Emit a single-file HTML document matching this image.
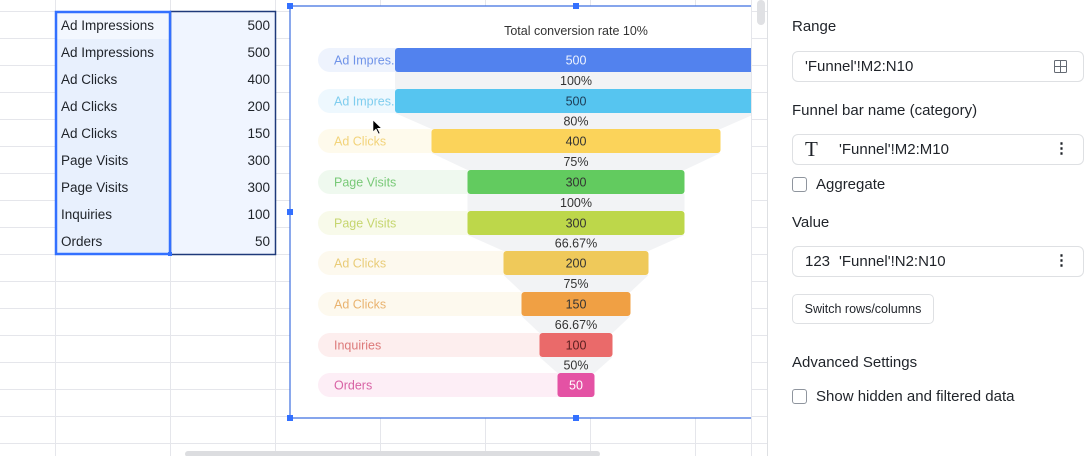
<!DOCTYPE html>
<html><head><meta charset="utf-8"><style>
body{margin:0;width:1090px;height:456px;overflow:hidden;background:#fff;font-family:"Liberation Sans",Arial,sans-serif;position:relative}
.p{position:absolute;color:#1f2329;font-size:15px}
.box{position:absolute;left:792px;width:292px;height:31px;border:1px solid #dee0e3;border-radius:6px;box-sizing:border-box;font-size:15px;color:#1f2329;line-height:29px}
.cb{position:absolute;left:792px;width:15px;height:15px;border:1px solid #8f959e;border-radius:3px;box-sizing:border-box}
.dots{position:absolute;right:14px;top:0;font-weight:bold;letter-spacing:0;line-height:27px}
</style></head><body>
<svg width="767" height="456" style="position:absolute;left:0;top:0" font-family="Liberation Sans, Arial, sans-serif">
<g stroke="#e5e6eb" stroke-width="1">
<line x1="0" y1="11.5" x2="767" y2="11.5"/><line x1="0" y1="38.5" x2="767" y2="38.5"/><line x1="0" y1="65.5" x2="767" y2="65.5"/><line x1="0" y1="92.5" x2="767" y2="92.5"/><line x1="0" y1="119.5" x2="767" y2="119.5"/><line x1="0" y1="146.5" x2="767" y2="146.5"/><line x1="0" y1="173.5" x2="767" y2="173.5"/><line x1="0" y1="200.5" x2="767" y2="200.5"/><line x1="0" y1="227.5" x2="767" y2="227.5"/><line x1="0" y1="254.5" x2="767" y2="254.5"/><line x1="0" y1="281.5" x2="767" y2="281.5"/><line x1="0" y1="308.5" x2="767" y2="308.5"/><line x1="0" y1="335.5" x2="767" y2="335.5"/><line x1="0" y1="362.5" x2="767" y2="362.5"/><line x1="0" y1="389.5" x2="767" y2="389.5"/><line x1="0" y1="416.5" x2="767" y2="416.5"/><line x1="0" y1="443.5" x2="767" y2="443.5"/>
<line x1="55.5" y1="0" x2="55.5" y2="456"/><line x1="170.5" y1="0" x2="170.5" y2="456"/><line x1="275.5" y1="0" x2="275.5" y2="456"/><line x1="380.5" y1="0" x2="380.5" y2="456"/><line x1="485.5" y1="0" x2="485.5" y2="456"/><line x1="590.5" y1="0" x2="590.5" y2="456"/><line x1="695.5" y1="0" x2="695.5" y2="456"/><line x1="751.5" y1="0" x2="751.5" y2="456"/>
</g>
<rect x="56" y="12" width="115" height="242" fill="#e8f0fd"/>
<rect x="56" y="12" width="115" height="27" fill="#f3f7fe"/>
<rect x="171" y="12" width="104" height="242" fill="#f0f5ff"/>
<rect x="170.5" y="11.5" width="105" height="243" fill="none" stroke="#1f3a7a" stroke-width="1.5"/>
<rect x="56" y="12" width="114" height="242" fill="none" stroke="#3370ff" stroke-width="2.5"/>
<rect x="168" y="252" width="4" height="4" fill="#3370ff"/>
<g font-size="13.5" fill="#1f2329">
<text x="61" y="30">Ad Impressions</text><text x="61" y="57">Ad Impressions</text><text x="61" y="84">Ad Clicks</text><text x="61" y="111">Ad Clicks</text><text x="61" y="138">Ad Clicks</text><text x="61" y="165">Page Visits</text><text x="61" y="192">Page Visits</text><text x="61" y="219">Inquiries</text><text x="61" y="246">Orders</text>
<g text-anchor="end"><text x="270" y="30">500</text><text x="270" y="57">500</text><text x="270" y="84">400</text><text x="270" y="111">200</text><text x="270" y="138">150</text><text x="270" y="165">300</text><text x="270" y="192">300</text><text x="270" y="219">100</text><text x="270" y="246">50</text></g>
</g>
<rect x="757" y="0" width="8" height="25" rx="4" fill="#e0e1e4"/>
<rect x="185" y="451" width="415" height="6" rx="3" fill="#dcdde0"/>
<rect x="290" y="6" width="461" height="412" fill="#fff"/>
<svg x="290" y="6" width="461" height="412" overflow="hidden"><g transform="translate(-290,-6)">
<text x="576" y="35" text-anchor="middle" font-size="12.5" fill="#333">Total conversion rate 10%</text>
<g fill="#f2f3f5">
<polygon points="395,72 757,72 757,89 395,89"/><polygon points="395,113 757,113 720.5,129 431.5,129"/><polygon points="431.5,153 720.5,153 684.5,170 467.5,170"/><polygon points="467.5,194 684.5,194 684.5,211 467.5,211"/><polygon points="467.5,235 684.5,235 648.5,251 503.5,251"/><polygon points="503.5,275 648.5,275 630.5,292 521.5,292"/><polygon points="521.5,316 630.5,316 612.5,333 539.5,333"/><polygon points="539.5,357 612.5,357 594.5,373 557.5,373"/>
</g>
<rect x="318" y="48" width="90" height="24" rx="12" fill="#eef3fd"/>
<rect x="318" y="89" width="90" height="24" rx="12" fill="#eef8fe"/>
<rect x="318" y="129" width="125" height="24" rx="12" fill="#fefaec"/>
<rect x="318" y="170" width="160" height="24" rx="12" fill="#eff9ef"/>
<rect x="318" y="211" width="160" height="24" rx="12" fill="#f8faea"/>
<rect x="318" y="251" width="196" height="24" rx="12" fill="#fdf9ee"/>
<rect x="318" y="292" width="214" height="24" rx="12" fill="#fdf9ee"/>
<rect x="318" y="333" width="232" height="24" rx="12" fill="#fdeeee"/>
<rect x="318" y="373" width="250" height="24" rx="12" fill="#fdeef6"/>
<rect x="395" y="48" width="362" height="24" rx="3" fill="#5282ee"/>
<rect x="395" y="89" width="362" height="24" rx="3" fill="#56c5f0"/>
<rect x="431.5" y="129" width="289" height="24" rx="3" fill="#fbd35a"/>
<rect x="467.5" y="170" width="217" height="24" rx="3" fill="#62cb5f"/>
<rect x="467.5" y="211" width="217" height="24" rx="3" fill="#bdd74a"/>
<rect x="503.5" y="251" width="145" height="24" rx="3" fill="#efc95a"/>
<rect x="521.5" y="292" width="109" height="24" rx="3" fill="#f0a044"/>
<rect x="539.5" y="333" width="73" height="24" rx="3" fill="#ea6a6a"/>
<rect x="557.5" y="373" width="37" height="24" rx="3" fill="#e452a4"/>
<g font-size="12.5">
<text x="334" y="64.5" fill="#6f93e8">Ad Impres.</text>
<text x="334" y="105.5" fill="#7fcdee">Ad Impres.</text>
<text x="334" y="145.5" fill="#f2d37a">Ad Clicks</text>
<text x="334" y="186.5" fill="#78c977">Page Visits</text>
<text x="334" y="227.5" fill="#c6d66f">Page Visits</text>
<text x="334" y="267.5" fill="#e9cc78">Ad Clicks</text>
<text x="334" y="308.5" fill="#e9b36f">Ad Clicks</text>
<text x="334" y="349.5" fill="#dd7a7a">Inquiries</text>
<text x="334" y="389.5" fill="#d862a4">Orders</text>
</g>
<g font-size="12.5" text-anchor="middle" fill="#333">
<text x="576" y="64.5" fill="#eef3ff">500</text><text x="576" y="105.5" fill="#1d3b55">500</text><text x="576" y="145.5">400</text><text x="576" y="186.5">300</text><text x="576" y="227.5">300</text><text x="576" y="267.5">200</text><text x="576" y="308.5">150</text><text x="576" y="349.5" fill="#5a1f1f">100</text><text x="576" y="389.5" fill="#fff">50</text>
<text x="576" y="85">100%</text><text x="576" y="125.5">80%</text><text x="576" y="166">75%</text><text x="576" y="207">100%</text><text x="576" y="247.5">66.67%</text><text x="576" y="288">75%</text><text x="576" y="329">66.67%</text><text x="576" y="369.5">50%</text>
</g>
<path d="M373,120 l0,12 l3,-3 l2.5,5 l1.5,-0.7 l-2.5,-5 l4,0 z" fill="#000" stroke="#fff" stroke-width="0.6"/>
</g></svg>
<g stroke="#3d6fe0" stroke-width="1.2"><line x1="290" y1="6" x2="751" y2="6"/><line x1="290" y1="418" x2="751" y2="418"/><line x1="290" y1="6" x2="290" y2="418"/></g>
<g fill="#3370ff"><rect x="287" y="3" width="6" height="6"/><rect x="573" y="3" width="6" height="6"/><rect x="287" y="209" width="6" height="6"/><rect x="287" y="415" width="6" height="6"/><rect x="573" y="415" width="6" height="6"/></g>
</svg>
<div style="position:absolute;left:767px;top:0;width:1px;height:456px;background:#dee0e3"></div>
<div class="p" style="left:792px;top:18px">Range</div>
<div class="box" style="top:51px;padding-left:12px">'Funnel'!M2:N10
<svg style="position:absolute;right:16px;top:8px" width="13" height="13"><rect x="0.5" y="0.5" width="12" height="12" rx="1" fill="none" stroke="#646a73"/><line x1="6.5" y1="0" x2="6.5" y2="13" stroke="#646a73"/><line x1="0" y1="6.5" x2="13" y2="6.5" stroke="#646a73"/></svg></div>
<div class="p" style="left:792px;top:102px">Funnel bar name (category)</div>
<div class="box" style="top:134px;padding-left:46px"><span style="position:absolute;left:12px;font-family:'Liberation Serif',serif;font-size:21px">T</span>'Funnel'!M2:M10<span class="dots">⋮</span></div>
<div class="cb" style="top:177px"></div><div class="p" style="left:816px;top:176px">Aggregate</div>
<div class="p" style="left:792px;top:214px">Value</div>
<div class="box" style="top:246px;padding-left:46px"><span style="position:absolute;left:12px">123</span>'Funnel'!N2:N10<span class="dots">⋮</span></div>
<div style="position:absolute;left:792px;top:294px;width:142px;height:30px;border:1px solid #dee0e3;border-radius:5px;box-sizing:border-box;font-size:12.5px;line-height:28px;text-align:center;color:#1f2329">Switch rows/columns</div>
<div class="p" style="left:792px;top:354px">Advanced Settings</div>
<div class="cb" style="top:389px"></div><div class="p" style="left:816px;top:388px">Show hidden and filtered data</div>
</body></html>
